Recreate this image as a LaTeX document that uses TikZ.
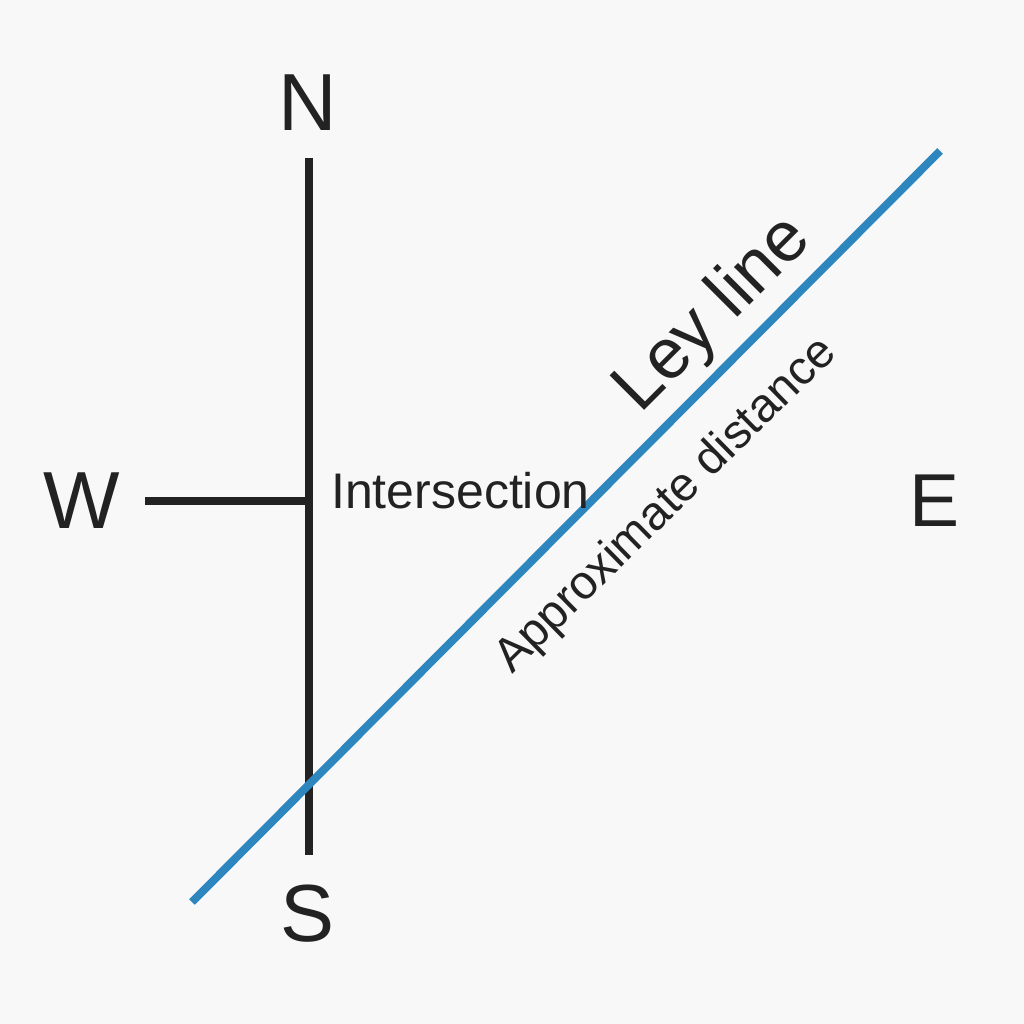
\documentclass[tikz,border=0pt]{standalone}
\usepackage{fontspec}
\setmainfont{Liberation Sans}
\definecolor{bg}{HTML}{F8F8F8}
\definecolor{ink}{HTML}{222222}
\definecolor{ley}{RGB}{45,135,190}
\begin{document}
\begin{tikzpicture}[x=1pt,y=-1pt,
  axis/.style={draw=ink,line width=7.5pt},
  leyl/.style={draw=ley,line width=8pt},
  compass/.style={text=ink,inner sep=0pt,font=\fontsize{81}{90}\selectfont},
  lbl/.style={text=ink,inner sep=0pt}]
\fill[bg] (0,0) rectangle (1024,1024);
\useasboundingbox (0,0) rectangle (1024,1024);
% coordinates
\coordinate (ntop) at (309,158);
\coordinate (sbot) at (309,855);
\coordinate (wend) at (145,501);
\coordinate (mid) at (309,501);
\coordinate (lstart) at (192,902);
\coordinate (lend) at (940,151);
% lines
\draw[axis] (ntop) -- (sbot);
\draw[axis] (wend) -- ([xshift=-3.75pt]mid);
\draw[leyl] (lstart) -- (lend);
% labels
\node[compass,anchor=base] (N) at (308,131) {N};
\node[compass,anchor=base] (S) at (308,941) {S};
\node[compass,anchor=base] (W) at (82,528) {W};
\node[compass,anchor=base,font=\fontsize{75}{84}\selectfont] (E) at (934,526) {E};
\node[lbl,anchor=base west,font=\fontsize{50}{56}\selectfont] (int) at (331,508) {Intersection};
\node[lbl,anchor=base west,rotate=45,font=\fontsize{71}{80}\selectfont] (ley) at (640,415) {Ley line};
\node[lbl,anchor=base west,rotate=44.5,font=\fontsize{47.5}{52}\selectfont] (dist) at (512,675) {Approximate distance};
\end{tikzpicture}
\end{document}
